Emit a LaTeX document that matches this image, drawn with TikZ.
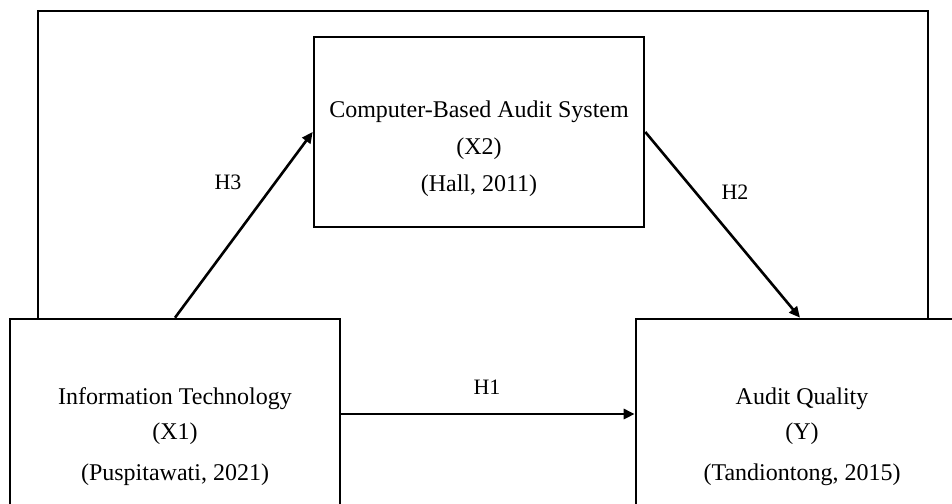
\documentclass[tikz,border=0pt]{standalone}
\usepackage{fontspec}
\setmainfont{Liberation Serif}
\usetikzlibrary{arrows.meta,calc}
\begin{document}
\begin{tikzpicture}[x=1pt,y=-1pt,
  box/.style={draw,line width=2.6pt,minimum width=#1,minimum height=190pt,inner sep=0pt},
  txt/.style={align=center,font=\fontsize{24}{35}\selectfont,inner sep=0pt},
  lbl/.style={font=\fontsize{22}{26}\selectfont,inner sep=0pt},
  conn/.style={line width=2.6pt,-{Triangle[length=11pt,width=10pt]}},
  frame/.style={line width=2.6pt}]
\useasboundingbox (0,0) rectangle (952,503);
\begin{scope}
\clip (0,0) rectangle (952,503);
\node[box=330pt] (x1) at (175,414) {};
\node[box=328pt] (y) at (800,414) {};
\node[box=330pt] (x2) at (479,132) {};
\node[txt] (x1t) at (175,437) {Information Technology\\(X1)\\[6pt](Puspitawati, 2021)};
\node[txt] (yt) at (802,437) {Audit Quality\\(Y)\\[6pt](Tandiontong, 2015)};
\node[txt,font=\fontsize{24}{37}\selectfont] (x2t) at (479,149) {Computer-Based Audit System\\(X2)\\(Hall, 2011)};
\coordinate (fl) at (38,11);
\coordinate (fr) at (928,11);
\draw[frame] (x1.north west -| fl) -- (fl) -- (fr) -- (fr |- y.north);
\draw[conn] (x1.north) -- (x2.west);
\draw[conn] (x2.east) -- (y.north);
\draw[conn] (x1.east) -- (y.west);
\node[lbl] (h3) at (228,182) {H3};
\node[lbl] (h2) at (735,192) {H2};
\node[lbl] (h1) at (487,387) {H1};
\end{scope}
\end{tikzpicture}
\end{document}
